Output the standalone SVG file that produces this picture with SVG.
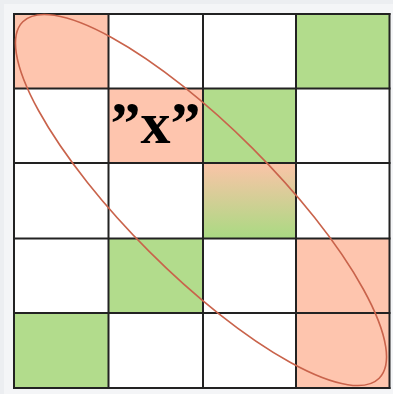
<svg xmlns="http://www.w3.org/2000/svg" width="393" height="394" viewBox="0 0 393 394">
  <defs>
    <linearGradient id="mix" x1="0" y1="0" x2="0" y2="1">
      <stop offset="0" stop-color="#fbc4a8"/>
      <stop offset="1" stop-color="#a9da82"/>
    </linearGradient>
    <style>
      .r { fill: #fec5ae; }
      .g { fill: #b2dc8c; }
      .w { fill: #ffffff; }
      .grid line { stroke: #222; stroke-width: 2; }
      .lbl { font-family: "Liberation Serif", "Times New Roman", serif; font-weight: bold; font-size: 60px; fill: #000; }
    </style>
  </defs>
  <rect x="0" y="0" width="393" height="394" fill="#eceef1"/>
  <rect x="4" y="4" width="389" height="390" fill="#f4f5f7"/>
  <rect x="14" y="14" width="375.5" height="374" class="w"/>

  <g id="cells">
    <rect id="c00" class="r" x="14" y="14" width="94.5" height="74.5"/>
    <rect id="c03" class="g" x="296" y="14" width="93.5" height="74.5"/>
    <rect id="c11" class="r" x="108.5" y="88.5" width="94.5" height="74.5"/>
    <rect id="c12" class="g" x="203" y="88.5" width="93" height="74.5"/>
    <rect id="c22" fill="url(#mix)" x="203" y="163" width="93" height="75.5"/>
    <rect id="c31" class="g" x="108.5" y="238.5" width="94.5" height="74.5"/>
    <rect id="c33" class="r" x="296" y="238.5" width="93.5" height="74.5"/>
    <rect id="c40" class="g" x="14" y="313" width="94.5" height="75"/>
    <rect id="c43" class="r" x="296" y="313" width="93.5" height="75"/>
  </g>

  <g id="label">
    <text class="lbl" x="155.5" y="143" text-anchor="middle">”x”</text>
  </g>

  <g class="grid" id="grid">
    <line x1="14" y1="13" x2="14" y2="389"/>
    <line x1="108.5" y1="13" x2="108.5" y2="389"/>
    <line x1="203" y1="13" x2="203" y2="389"/>
    <line x1="296" y1="13" x2="296" y2="389"/>
    <line x1="389.5" y1="13" x2="389.5" y2="389"/>
    <line x1="13" y1="14" x2="390.5" y2="14"/>
    <line x1="13" y1="88.5" x2="390.5" y2="88.5"/>
    <line x1="13" y1="163" x2="390.5" y2="163"/>
    <line x1="13" y1="238.5" x2="390.5" y2="238.5"/>
    <line x1="13" y1="313" x2="390.5" y2="313"/>
    <line x1="13" y1="388" x2="390.5" y2="388"/>
  </g>

  <g id="connectors">
    <ellipse cx="201" cy="200" rx="252" ry="73" transform="rotate(45 201 200)" fill="none" stroke="#c9634b" stroke-width="1.6"/>
  </g>
</svg>
